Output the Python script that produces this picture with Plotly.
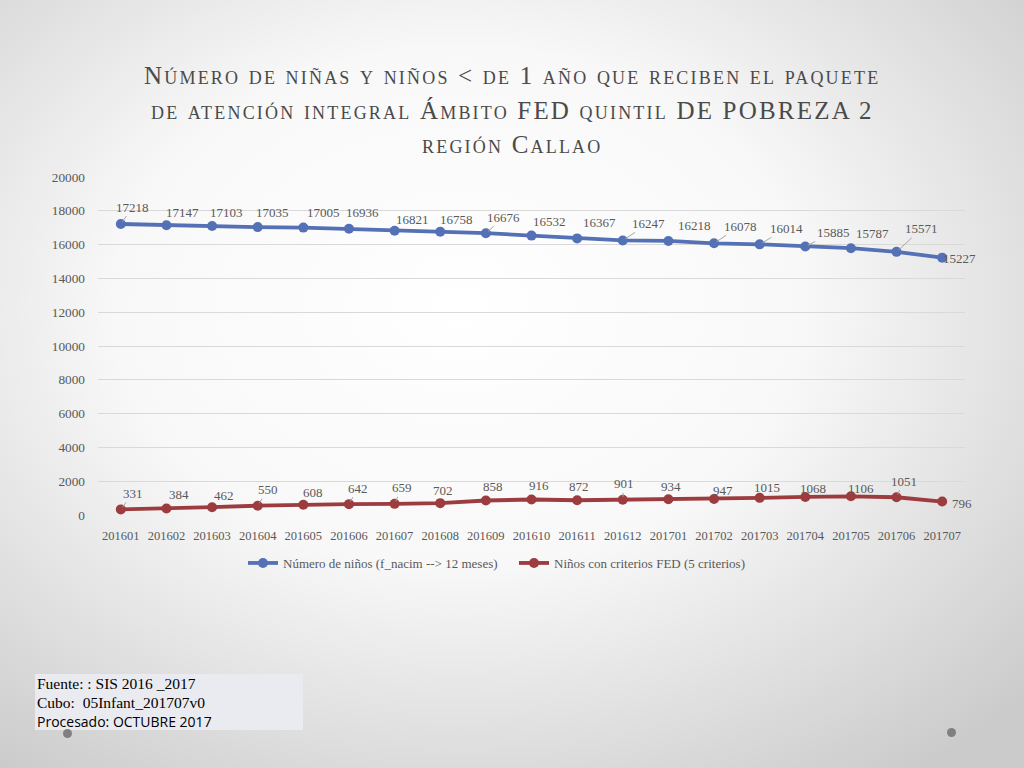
import plotly.graph_objects as go

# ---------------- data ----------------
periodos = ["201601", "201602", "201603", "201604", "201605", "201606", "201607",
            "201608", "201609", "201610", "201611", "201612", "201701", "201702",
            "201703", "201704", "201705", "201706", "201707"]
ninos_total = [17218, 17147, 17103, 17035, 17005, 16936, 16821, 16758, 16676, 16532,
               16367, 16247, 16218, 16078, 16014, 15885, 15787, 15571, 15227]
ninos_fed = [331, 384, 462, 550, 608, 642, 659, 702, 858, 916, 872, 901, 934, 947,
             1015, 1068, 1106, 1051, 796]
serie_total = "Número de niños (f_nacim --> 12 meses)"
serie_fed = "Niños con criterios FED (5 criterios)"
y_ticks = [0, 2000, 4000, 6000, 8000, 10000, 12000, 14000, 16000, 18000, 20000]
titulo = ["Número de niñas y niños &lt; de 1 año que reciben el paquete",
          "de atención integral Ámbito FED quintil DE POBREZA 2",
          "región Callao"]

# ---------------- label placement (pixel offsets, dy down) ----------------
off_total = [(12, -17), (16, -13), (14, -13), (15, -15), (20, -15), (14, -16), (18, -11),
             (16, -12), (18, -16), (18, -14), (22, -16), (26, -17), (26, -15), (26, -17),
             (27, -16), (28, -14), (22, -15), (25, -23), (17, 1)]
lead_total = [1, 0, 0, 0, 0, 0, 0, 0, 1, 0, 0, 1, 0, 1, 1, 1, 0, 1, 0]
off_fed = [(12, -16), (13, -14), (12, -12), (10, -16), (10, -12), (9, -16), (7, -16),
           (3, -13), (7, -14), (7, -14), (2, -14), (1, -16), (3, -13), (9, -9),
           (7, -10), (8, -8), (10, -8), (7, -16), (20, 2)]
lead_fed = [1, 0, 0, 1, 0, 1, 1, 0, 0, 0, 0, 1, 0, 0, 0, 0, 0, 1, 0]

W, H = 1024, 768
L, R, T, B = 98, 59, 177, 253
PW, PH = W - L - R, H - T - B

def px(x):
    return (x - L) / PW

def py(y):
    return (H - B - y) / PH

BLUE = "#5471B6"
RED = "#9C3C3F"
TXT = "#595959"
TITLE = "#4a4a4a"
SERIF = "Liberation Serif"

fig = go.Figure()
fig.add_trace(go.Scatter(x=periodos, y=ninos_total, name=serie_total, mode="lines+markers",
                         line=dict(color=BLUE, width=3.8), marker=dict(size=10, color=BLUE)))
fig.add_trace(go.Scatter(x=periodos, y=ninos_fed, name=serie_fed, mode="lines+markers",
                         line=dict(color=RED, width=3.8), marker=dict(size=10, color=RED)))

annotations = []
for vals, offs, leads in ((ninos_total, off_total, lead_total), (ninos_fed, off_fed, lead_fed)):
    for i, (v, (dx, dy), ld) in enumerate(zip(vals, offs, leads)):
        # category axis: position given as category index
        if ld:
            annotations.append(dict(x=i, y=v, xref="x", yref="y", text=str(v), showarrow=True,
                                    arrowhead=0, arrowwidth=1, arrowcolor="#a6a6a6",
                                    ax=dx, ay=dy, standoff=3,
                                    font=dict(family=SERIF, size=13, color=TXT)))
        else:
            annotations.append(dict(x=i, y=v, xref="x", yref="y", text=str(v), showarrow=False,
                                    xshift=dx, yshift=-dy,
                                    font=dict(family=SERIF, size=13, color=TXT)))

# title lines (small caps, slightly tracked)
for line, yy in zip(titulo, (76, 110, 144)):
    annotations.append(dict(xref="paper", yref="paper", x=px(512), y=py(yy),
                            text='<span style="letter-spacing:2.2px">' + line + "</span>",
                            showarrow=False, xanchor="center", yanchor="middle",
                            font=dict(family=SERIF, size=25, color=TITLE, variant="small-caps")))

# source box text
src_lines = [("Fuente: : SIS 2016 _2017", SERIF, 683),
             ("Cubo:  05Infant_201707v0", SERIF, 702),
             ("Procesado: OCTUBRE 2017", "Open Sans", 721)]
for txt, fam, yy in src_lines:
    annotations.append(dict(xref="paper", yref="paper", x=px(35), y=py(yy), text=txt,
                            showarrow=False, xanchor="left", yanchor="middle",
                            font=dict(family=fam, size=15.5 if fam == SERIF else 14, color="#000000")))

bg_svg = ("data:image/svg+xml;utf8,<svg xmlns='http://www.w3.org/2000/svg' width='1024' height='768' preserveAspectRatio='none'>"
          "<defs><radialGradient id='g' cx='45%25' cy='40%25' r='75%25'>"
          "<stop offset='0' stop-color='%23ffffff'/><stop offset='0.45' stop-color='%23f8f8f8'/>"
          "<stop offset='1' stop-color='%23cbcbcb'/></radialGradient></defs>"
          "<rect width='1024' height='768' fill='url(%23g)'/></svg>")

shapes = [
    dict(type="rect", xref="paper", yref="paper", x0=px(35), x1=px(303), y0=py(730), y1=py(674),
         fillcolor="#eaebf1", line=dict(width=0), layer="below"),
    dict(type="circle", xref="paper", yref="paper", x0=px(63), x1=px(72), y0=py(738), y1=py(729),
         fillcolor="#808080", line=dict(width=0), layer="below"),
    dict(type="circle", xref="paper", yref="paper", x0=px(947), x1=px(956), y0=py(737), y1=py(728),
         fillcolor="#808080", line=dict(width=0)),
]

fig.update_layout(
    width=W, height=H,
    margin=dict(l=L, r=R, t=T, b=B, pad=0),
    paper_bgcolor="#e4e4e4", plot_bgcolor="rgba(0,0,0,0)",
    images=[dict(source=bg_svg, xref="paper", yref="paper", x=-L / PW, y=1 + T / PH,
                 sizex=W / PW, sizey=H / PH, sizing="stretch", xanchor="left", yanchor="top",
                 layer="below")],
    xaxis=dict(type="category", categoryorder="array", categoryarray=periodos,
               range=[-0.5, len(periodos) - 0.5], showgrid=False, zeroline=False, showline=False,
               tickfont=dict(family=SERIF, size=12.5, color=TXT), ticklabelstandoff=11),
    yaxis=dict(range=[0, 20000], tickvals=y_ticks, tickformat="d", showgrid=True,
               gridcolor="#d9d9d9", gridwidth=1, zeroline=False, showline=False,
               tickfont=dict(family=SERIF, size=13.3, color=TXT), ticklabelstandoff=12),
    legend=dict(orientation="h", xref="paper", x=px(243), xanchor="left",
                y=py(563), yanchor="middle", font=dict(family=SERIF, size=13, color=TXT),
                itemwidth=30, entrywidth=226, entrywidthmode="pixels",
                bgcolor="rgba(0,0,0,0)"),
    annotations=annotations,
    shapes=shapes,
    showlegend=True,
)

fig.write_html("out.html", config={"displayModeBar": False},
               post_script="document.body.style.margin='0';document.body.style.overflow='hidden';"
                           "document.documentElement.style.overflow='hidden';")
